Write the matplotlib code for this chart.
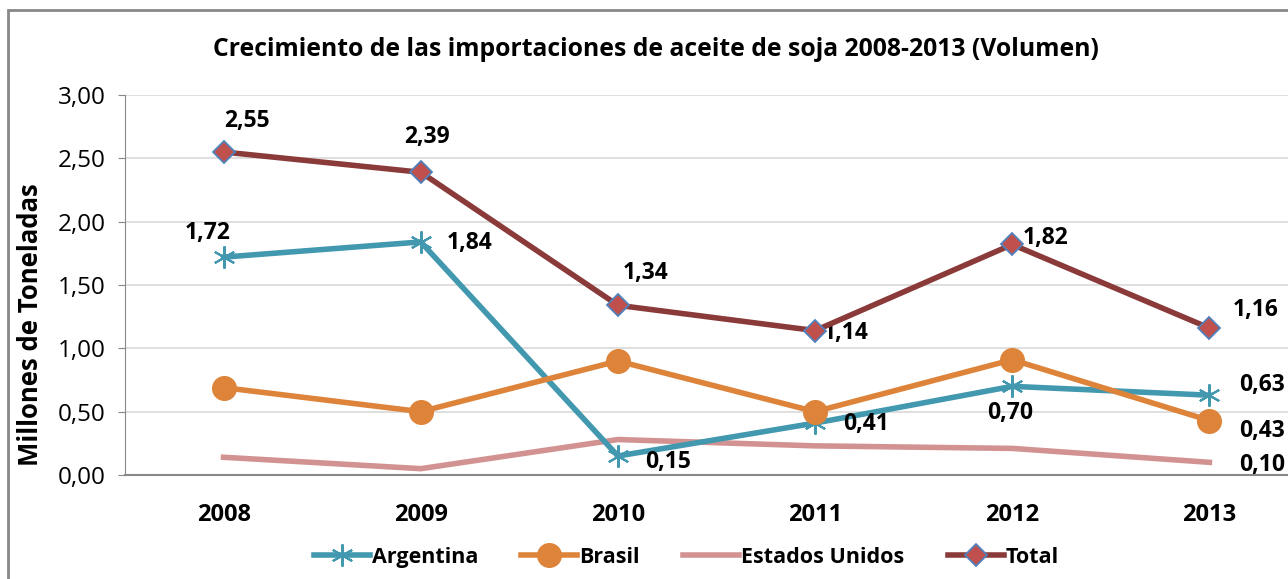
import matplotlib.pyplot as plt
from matplotlib.patches import Rectangle

years = ["2008", "2009", "2010", "2011", "2012", "2013"]
argentina = [1.72, 1.84, 0.15, 0.41, 0.70, 0.63]
brasil = [0.69, 0.50, 0.90, 0.50, 0.91, 0.43]
eeuu = [0.14, 0.05, 0.28, 0.23, 0.21, 0.10]
total = [2.55, 2.39, 1.34, 1.14, 1.82, 1.16]

plt.rcParams['font.family'] = ['Open Sans', 'DejaVu Sans']

fig = plt.figure(figsize=(12.88, 5.79), dpi=100)
ax = fig.add_axes([125 / 1288, 104 / 579, 1183 / 1288, 380 / 579])

x = list(range(len(years)))
ax.plot(x, argentina, color='#4198AF', lw=4, marker=(6, 2, 0), ms=16,
        mew=1.5, mec='#4198AF', label='Argentina', zorder=3)
ax.plot(x, brasil, color='#DD843A', lw=4, marker='o', ms=17,
        label='Brasil', zorder=3)
ax.plot(x, eeuu, color='#D39292', lw=4, label='Estados Unidos', zorder=2)
ax.plot(x, total, color='#8B3A3A', lw=4, marker='D', ms=11, mfc='#C0504D',
        mec='#4F81BD', mew=1.3, label='Total', zorder=4)

def fmt(v):
    return f"{v:.2f}".replace('.', ',')

lab = dict(fontsize=16.5, fontweight='bold', textcoords='offset pixels',
           ha='center', va='center')
# etiquetas (desplazamiento en pixeles)
tot_off = [(23, 31), (6, 35), (28, 32), (31, -2), (33, 6), (46, 18)]
arg_off = [(-16, 24), (49, -1), (50, -6), (51, -1), (-2, -27), (53, 10)]
for i, (dx, dy) in enumerate(tot_off):
    ax.annotate(fmt(total[i]), (i, total[i]), xytext=(dx, dy), **lab)
for i, (dx, dy) in enumerate(arg_off):
    ax.annotate(fmt(argentina[i]), (i, argentina[i]), xytext=(dx, dy), **lab)
ax.annotate(fmt(brasil[5]), (5, brasil[5]), xytext=(53, -10), **lab)
ax.annotate(fmt(eeuu[5]), (5, eeuu[5]), xytext=(53, -3), **lab)

ax.set_xlim(-0.5, 5.5)
ax.set_ylim(0, 3)
ax.set_yticks([0, 0.5, 1, 1.5, 2, 2.5, 3])
ax.set_yticklabels([fmt(v) for v in ax.get_yticks()], fontsize=17.5)
ax.set_xticks(x)
ax.set_xticklabels(years, fontsize=17, fontweight='bold')
ax.tick_params(axis='x', length=0, pad=20)
ax.tick_params(axis='y', length=5, color='#888888', pad=9)
ax.grid(axis='y', color='#D9D9D9', lw=1.2)
ax.set_axisbelow(True)
for s in ['top', 'right']:
    ax.spines[s].set_visible(False)
ax.spines['left'].set_color('#888888')
ax.spines['bottom'].set_color('#888888')
ax.spines['bottom'].set_linewidth(1.5)

ax.set_ylabel('Millones de Toneladas', fontsize=18.5, fontweight='bold')
ax.yaxis.set_label_coords(-81 / 1183, 0.395)
fig.text(0.5 + 12 / 1288, 1 - 50 / 579,
         'Crecimiento de las importaciones de aceite de soja 2008-2013 (Volumen)',
         ha='center', va='center', fontsize=17.8, fontweight='bold')

ax.legend(loc='center', bbox_to_anchor=(0.5 - 30 / 1183, -0.216), ncol=4, frameon=False,
          prop={'weight': 'bold', 'size': 15.5}, handlelength=2.6,
          columnspacing=2.0, handletextpad=0.1)

fig.patches.append(Rectangle((8 / 1288, -0.1), 1.1, 1 - 10 / 579 + 0.1,
                             transform=fig.transFigure, fill=False,
                             ec='#888888', lw=2))

fig.savefig('out.png', dpi=100)
